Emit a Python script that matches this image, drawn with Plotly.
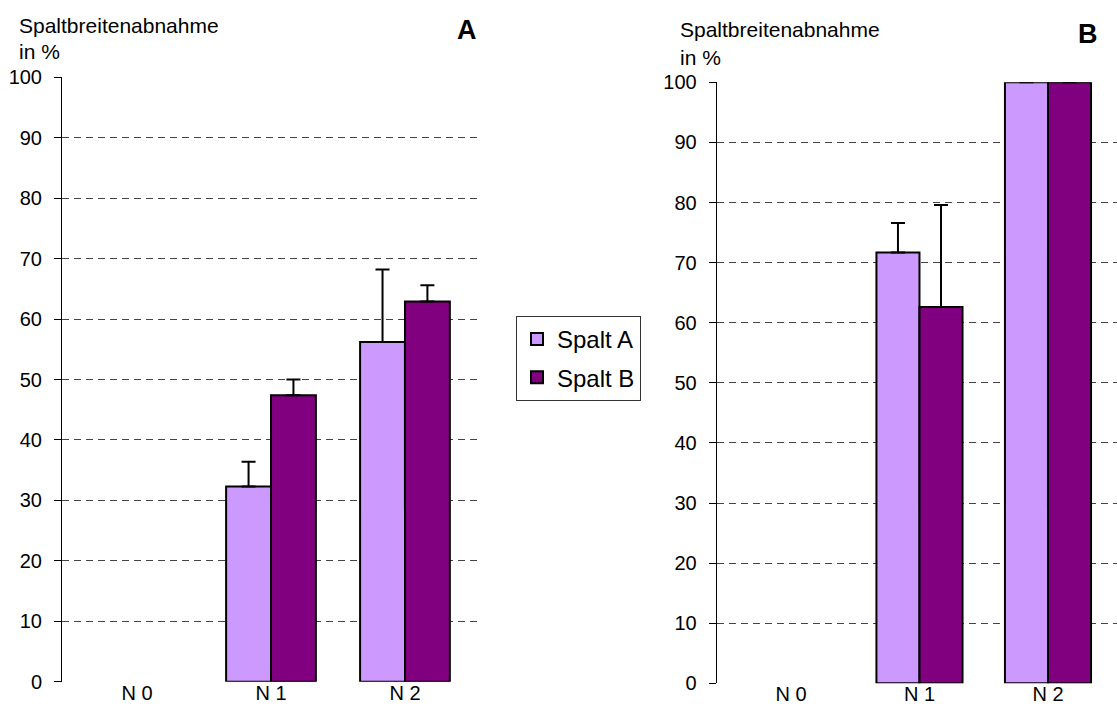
import plotly.graph_objects as go

# Categories (nitrogen levels) and their positions on the x axis
categories = ["N 0", "N 1", "N 2"]
positions = [0, 1, 2]

# Panel A: gap-width reduction in %, mean and upper error
a_spalt_a = [0, 32.3, 56.2]
a_spalt_a_err = [None, 4.1, 12.0]
a_spalt_b = [0, 47.4, 62.9]
a_spalt_b_err = [None, 2.6, 2.7]

# Panel B: gap-width reduction in %, mean and upper error
b_spalt_a = [0, 71.7, 100]
b_spalt_a_err = [None, 4.9, None]
b_spalt_b = [0, 62.6, 100]
b_spalt_b_err = [None, 17.0, None]

y_ticks = [0, 10, 20, 30, 40, 50, 60, 70, 80, 90, 100]

LIGHT = "#CC99FF"
DARK = "#800080"
FONT = "Liberation Sans, Arial, sans-serif"

W, H = 1117, 706


def px_x(p):
    return p / W


def px_y(p):
    return 1 - p / H


def bar(name, y, err, color, xaxis, yaxis, show, group):
    # a zero reduction leaves the slot empty (no flat outline, no error cap)
    shown = [v if v else None for v in y]
    return go.Bar(
        name=name,
        x=positions,
        y=shown,
        xaxis=xaxis,
        yaxis=yaxis,
        marker=dict(color=color, line=dict(color="black", width=2)),
        error_y=dict(type="data", array=err, symmetric=False,
                     arrayminus=[0 if e is not None else None for e in err],
                     color="black", thickness=2, width=7),
        showlegend=show,
        legendgroup=group,
    )


fig = go.Figure()
fig.add_trace(bar("Spalt A", a_spalt_a, a_spalt_a_err, LIGHT, "x", "y", True, "a"))
fig.add_trace(bar("Spalt B", a_spalt_b, a_spalt_b_err, DARK, "x", "y", True, "b"))
fig.add_trace(bar("Spalt A", b_spalt_a, b_spalt_a_err, LIGHT, "x2", "y2", False, "a"))
fig.add_trace(bar("Spalt B", b_spalt_b, b_spalt_b_err, DARK, "x2", "y2", False, "b"))

xaxis_common = dict(
    tickmode="array", tickvals=positions, ticktext=categories,
    showgrid=False, zeroline=False, showline=False, ticks="",
    ticklabelstandoff=-3,
    tickfont=dict(family=FONT, size=20, color="black"),
    automargin=False, fixedrange=True,
)
yaxis_common = dict(
    range=[0, 100], tickmode="array", tickvals=y_ticks,
    showgrid=True, gridcolor="#444444", gridwidth=1, griddash="7px,5px",
    zeroline=False, showline=True, linecolor="black", linewidth=1,
    ticks="outside", ticklen=7, tickcolor="black", tickwidth=1,
    ticklabelstandoff=8,
    tickfont=dict(family=FONT, size=20, color="black"),
    automargin=False, fixedrange=True,
)

fig.update_layout(
    width=W, height=H,
    margin=dict(l=0, r=0, t=0, b=0, autoexpand=False),
    paper_bgcolor="white", plot_bgcolor="white",
    barmode="group", bargap=0.33, bargroupgap=0,
    xaxis=dict(domain=[px_x(62), px_x(482)], range=[-0.56, 2.575], anchor="y", **xaxis_common),
    yaxis=dict(domain=[px_y(681.7), px_y(77.3)], anchor="x", **yaxis_common),
    xaxis2=dict(domain=[px_x(716.7), 1.0], range=[-0.578, 2.537], anchor="y2", **xaxis_common),
    yaxis2=dict(domain=[px_y(683.3), px_y(82.3)], anchor="x2", **yaxis_common),
    legend=dict(
        x=px_x(516), y=px_y(316), xanchor="left", yanchor="top",
        bordercolor="#333333", borderwidth=1, bgcolor="white",
        font=dict(family=FONT, size=24, color="black"),
        tracegroupgap=4, itemwidth=30,
    ),
)

label_font = dict(family=FONT, size=21, color="black")
for x0, y1, y2 in [(17, 26, 52), (678, 30, 57)]:
    fig.add_annotation(text="Spaltbreitenabnahme", x=px_x(x0), y=px_y(y1),
                       xref="paper", yref="paper", xanchor="left", yanchor="middle",
                       showarrow=False, font=label_font)
    fig.add_annotation(text="in %", x=px_x(x0), y=px_y(y2),
                       xref="paper", yref="paper", xanchor="left", yanchor="middle",
                       showarrow=False, font=label_font)

for txt, cx, cy in [("A", 467, 30), ("B", 1088, 34)]:
    fig.add_annotation(text="<b>" + txt + "</b>", x=px_x(cx), y=px_y(cy),
                       xref="paper", yref="paper", xanchor="center", yanchor="middle",
                       showarrow=False, font=dict(family=FONT, size=27, color="black"))

fig.write_html("out.html")
